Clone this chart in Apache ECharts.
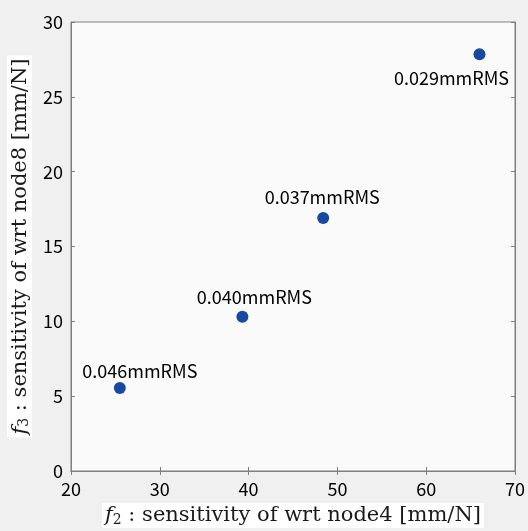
<!DOCTYPE html>
<html>
<head>
<meta charset="utf-8">
<script src="https://cdn.jsdelivr.net/npm/echarts@6/dist/echarts.min.js"></script>
<style>
html,body{margin:0;padding:0;background:#f0f0f0;}
#c{width:528px;height:531px;}
</style>
</head>
<body>
<div id="c"></div>
<script>
var f2Values = [25.5, 39.3, 48.4, 66.0];
var f3Values = [5.55, 10.3, 16.9, 27.85];
var rmsLabels = ['0.046mmRMS', '0.040mmRMS', '0.037mmRMS', '0.029mmRMS'];
var xTicks = [20, 30, 40, 50, 60, 70];
var yTicks = [0, 5, 10, 15, 20, 25, 30];

// label placement (style only)
var labelOffsets = [[20, -17], [12, -20], [-1, -21], [-28, 24]];

var chart = echarts.init(document.getElementById('c'));
var pts = f2Values.map(function (x, i) {
  return {
    value: [x, f3Values[i]],
    label: { show: true, formatter: rmsLabels[i], position: 'inside', offset: labelOffsets[i] }
  };
});
var tickFont = { color: '#000000', fontSize: 18, fontFamily: 'Noto Sans CJK JP' };
var titleRich = {
  i: { fontFamily: 'DejaVu Serif', fontStyle: 'italic', fontSize: 21, color: '#1a1a1a' },
  s: { fontFamily: 'DejaVu Serif', fontSize: 14, color: '#1a1a1a', verticalAlign: 'bottom', padding: [8, 0, 0, 0] },
  t: { fontFamily: 'DejaVu Serif', fontSize: 21, color: '#1a1a1a' }
};
var axisLine = { show: true, lineStyle: { color: '#7f7f7f', width: 1 } };
var axisTick = { show: true, inside: true, length: 4, lineStyle: { color: '#7f7f7f', width: 1 } };
chart.setOption({
  backgroundColor: '#f0f0f0',
  animation: false,
  grid: { left: 71, right: 13, top: 22, bottom: 60, containLabel: false, outerBoundsMode: 'none', show: true, backgroundColor: '#fafafa', borderColor: '#7f7f7f', borderWidth: 1 },
  xAxis: [{
    type: 'value', min: xTicks[0], max: xTicks[xTicks.length - 1], interval: 10,
    axisLine: axisLine, axisTick: axisTick, splitLine: { show: false },
    axisLabel: Object.assign({ margin: 9, formatter: function (v) { return xTicks.indexOf(v) >= 0 ? String(v) : ''; } }, tickFont),
    name: '{i|f}{s|2}{t| : sensitivity of wrt node4 [mm/N]}',
    nameLocation: 'middle', nameGap: 27,
    nameTextStyle: { rich: titleRich, backgroundColor: '#ffffff', padding: [2, 3, 1, 3] }
  }, {
    type: 'value', position: 'top', min: xTicks[0], max: xTicks[xTicks.length - 1], interval: 10,
    axisLine: axisLine, axisTick: axisTick, splitLine: { show: false }, axisLabel: { show: false }
  }],
  yAxis: [{
    type: 'value', min: yTicks[0], max: yTicks[yTicks.length - 1], interval: 5,
    axisLine: axisLine, axisTick: axisTick, splitLine: { show: false },
    axisLabel: Object.assign({ margin: 8, formatter: function (v) { return yTicks.indexOf(v) >= 0 ? String(v) : ''; } }, tickFont),
    name: '{i|f}{s|3}{t| : sensitivity of wrt node8 [mm/N]}',
    nameLocation: 'middle', nameGap: 32,
    nameTextStyle: { rich: titleRich, backgroundColor: '#ffffff', padding: [2, 3, 1, 3] }
  }, {
    type: 'value', position: 'right', min: yTicks[0], max: yTicks[yTicks.length - 1], interval: 5,
    axisLine: axisLine, axisTick: axisTick, splitLine: { show: false }, axisLabel: { show: false }
  }],
  series: [{
    type: 'scatter',
    data: pts,
    symbolSize: 12,
    itemStyle: { color: '#1848a0', opacity: 1 },
    label: { color: '#000000', fontSize: 18, fontFamily: 'Noto Sans CJK JP' }
  }]
});
</script>
</body>
</html>
